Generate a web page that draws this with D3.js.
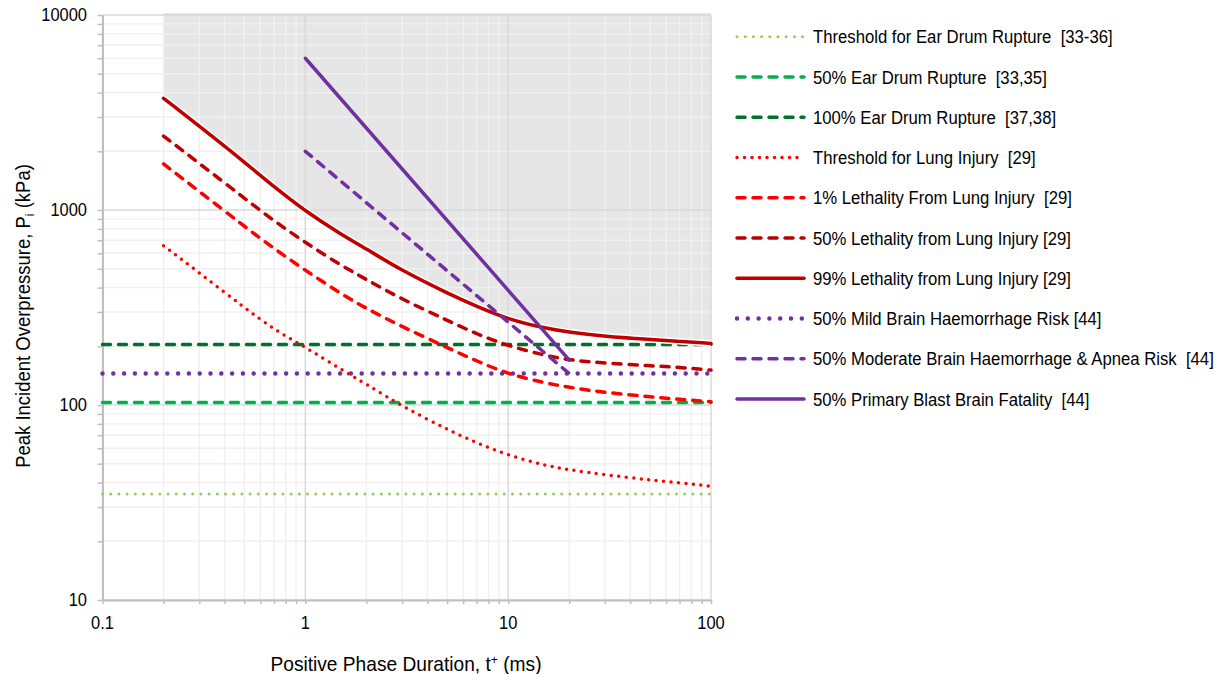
<!DOCTYPE html>
<html>
<head>
<meta charset="utf-8">
<script src="https://cdn.jsdelivr.net/npm/d3@7"></script>
<style>
  html, body { margin: 0; padding: 0; background: #fff; }
  svg { display: block; font-family: "Liberation Sans", Arial, sans-serif; }
  text { white-space: pre; fill: #000; }
</style>
</head>
<body>
<svg id="chart" width="1225" height="674"></svg>
<script>
// ---------- data ----------
const durations   = [0.2, 0.3, 0.5, 0.7, 1, 1.5, 2, 3, 5, 7, 10, 15, 20, 30, 50, 70, 100];
const lungThreshold = [656, 476, 316, 244, 198, 152, 128, 98.4, 75, 63.8, 55.2, 49.1, 46.5, 43.9, 41.2, 40.0, 38.3];
const lung1   = [1722, 1245, 825, 635, 490, 372, 312, 252, 197, 168, 144, 130, 123, 116, 110, 107, 104];
const lung50  = [2393, 1735, 1150, 880, 680, 520, 440, 348, 272, 231, 201, 180, 170, 164, 159, 156, 151];
const lung99  = [3740, 2690, 1765, 1315, 985, 750, 632, 488, 375, 320, 275, 248, 236, 225, 217, 212, 207];
const flatDurations = [0.1, 100];
const earThreshold = [35, 35];
const ear50 = [103, 103];
const ear100 = [204, 204];
const brainMild = [145, 145];
const brainDurations = [1, 20];
const brainModerate = [2000, 145];
const brainFatal = [6000, 170];

const xTickLabels = ["0.1", "1", "10", "100"];
const yTickLabels = ["10", "100", "1000", "10000"];

const legendLabels = [
  "Threshold for Ear Drum Rupture  [33-36]",
  "50% Ear Drum Rupture  [33,35]",
  "100% Ear Drum Rupture  [37,38]",
  "Threshold for Lung Injury  [29]",
  "1% Lethality From Lung Injury  [29]",
  "50% Lethality from Lung Injury [29]",
  "99% Lethality from Lung Injury [29]",
  "50% Mild Brain Haemorrhage Risk [44]",
  "50% Moderate Brain Haemorrhage & Apnea Risk  [44]",
  "50% Primary Blast Brain Fatality  [44]"
];

// ---------- styles ----------
const dotted = (w, gap) => ({ width: w, dash: `0 ${gap}` });
const dashed = { width: 3.5, dash: "8 8" };
const solid = { width: 3.5, dash: null };

const series = [
  { t: flatDurations, v: earThreshold, color: "#92d050", ...dotted(3, 8.2) },
  { t: flatDurations, v: ear50, color: "#00b050", ...dashed },
  { t: flatDurations, v: ear100, color: "#00702f", ...dashed },
  { t: durations, v: lungThreshold, color: "#ff0000", ...dotted(3.5, 7.5) },
  { t: durations, v: lung1, color: "#ff0000", ...dashed },
  { t: durations, v: lung50, color: "#c00000", ...dashed },
  { t: durations, v: lung99, color: "#c00000", ...solid },
  { t: flatDurations, v: brainMild, color: "#7030a0", ...dotted(4.5, 10.8) },
  { t: brainDurations, v: brainModerate, color: "#7030a0", ...dashed },
  { t: brainDurations, v: brainFatal, color: "#7030a0", ...solid }
];

// ---------- scales ----------
const svg = d3.select("#chart");
const x = d3.scaleLog().domain([0.1, 100]).range([102.5, 711]);
const y = d3.scaleLog().domain([10, 10000]).range([600, 15]);

const allX = x.ticks();
const allY = y.ticks();
const xMajor = xTickLabels.map(Number);
const yMajor = yTickLabels.map(Number);

// ---------- shaded region above 99% lethality ----------
const shadeArea = d3.area()
  .x((d, i) => x(durations[i]))
  .y0(y.range()[1] - 2)
  .y1(d => y(d))
  .curve(d3.curveBasis);
svg.append("path").datum(lung99).attr("d", shadeArea).attr("fill", "#e6e6e6");

// ---------- grid ----------
const grid = svg.append("g");
grid.selectAll(".vminor").data(allX.filter(d => !xMajor.includes(d))).join("line")
  .attr("x1", d => x(d)).attr("x2", d => x(d))
  .attr("y1", y.range()[1]).attr("y2", y.range()[0])
  .attr("stroke", "#f0f0f0").attr("stroke-width", 1.4);
grid.selectAll(".hminor").data(allY.filter(d => !yMajor.includes(d))).join("line")
  .attr("y1", d => y(d)).attr("y2", d => y(d))
  .attr("x1", x.range()[0]).attr("x2", x.range()[1])
  .attr("stroke", "#f0f0f0").attr("stroke-width", 1.4);
grid.selectAll(".vmajor").data(xMajor).join("line")
  .attr("x1", d => x(d)).attr("x2", d => x(d))
  .attr("y1", y.range()[1]).attr("y2", y.range()[0])
  .attr("stroke", "#d9d9d9").attr("stroke-width", 1.5);
grid.selectAll(".hmajor").data(yMajor).join("line")
  .attr("y1", d => y(d)).attr("y2", d => y(d))
  .attr("x1", x.range()[0]).attr("x2", x.range()[1])
  .attr("stroke", "#d9d9d9").attr("stroke-width", 1.5);

// ---------- axes ----------
const xAxis = svg.append("g").attr("transform", `translate(0,${y.range()[0]})`)
  .call(d3.axisBottom(x).tickValues(allX).tickSize(4).tickSizeOuter(0).tickFormat(""));
const yAxis = svg.append("g").attr("transform", `translate(${x.range()[0]},0)`)
  .call(d3.axisLeft(y).tickValues(allY).tickSize(5).tickSizeOuter(0).tickFormat(""));
[xAxis, yAxis].forEach(a => {
  a.select(".domain").attr("stroke", "#bfbfbf").attr("stroke-width", 2);
  a.selectAll(".tick line").attr("stroke", "#bfbfbf").attr("stroke-width", 1.5);
});

// tick labels
svg.selectAll(".xl").data(xTickLabels).join("text")
  .attr("transform", d => `translate(${x(+d)},629) scale(0.94,1)`)
  .attr("text-anchor", "middle").attr("font-size", 17.5).text(d => d);
svg.selectAll(".yl").data(yTickLabels).join("text")
  .attr("transform", d => `translate(87,${y(+d) + 6.3}) scale(0.94,1)`)
  .attr("text-anchor", "end").attr("font-size", 17.5).text(d => d);

// axis titles
const xt = svg.append("text")
  .attr("transform", "translate(406,671) scale(0.935,1)")
  .attr("text-anchor", "middle").attr("font-size", 20.5);
xt.append("tspan").text("Positive Phase Duration, t");
xt.append("tspan").attr("font-size", 13).attr("dy", -7).text("+");
xt.append("tspan").attr("dy", 7).text(" (ms)");

const yt = svg.append("text")
  .attr("transform", "translate(30,316) rotate(-90) scale(0.925,1)")
  .attr("text-anchor", "middle").attr("font-size", 20);
yt.append("tspan").text("Peak Incident Overpressure, P");
yt.append("tspan").attr("font-size", 13).attr("dy", 4).text("i");
yt.append("tspan").attr("dy", -4).text(" (kPa)");

// ---------- series ----------
const lineGen = (s) => d3.line()
  .x((d, i) => x(s.t[i]))
  .y(d => y(d))
  .curve(d3.curveBasis);

const plot = svg.append("g");
series.forEach((s, k) => {
  if (k === 6) {
    plot.append("path").datum(s.v).attr("d", lineGen(s))
      .attr("fill", "none").attr("stroke", "#fff").attr("stroke-width", 6.5);
  }
  plot.append("path").datum(s.v).attr("d", lineGen(s))
    .attr("fill", "none").attr("stroke", s.color)
    .attr("stroke-width", s.width)
    .attr("stroke-linecap", "round")
    .attr("stroke-dasharray", s.dash);
});

// ---------- legend ----------
const legend = svg.append("g");
legendLabels.forEach((lab, i) => {
  const s = series[i];
  const cy = 36.7 + i * 40.25;
  legend.append("line")
    .attr("x1", 737).attr("x2", 804).attr("y1", cy).attr("y2", cy)
    .attr("stroke", s.color).attr("stroke-width", s.width)
    .attr("stroke-linecap", "round").attr("stroke-dasharray", s.dash);
  legend.append("text")
    .attr("transform", `translate(813,${cy + 6.6}) scale(0.903,1)`)
    .attr("font-size", 18.5).text(lab);
});
</script>
</body>
</html>
